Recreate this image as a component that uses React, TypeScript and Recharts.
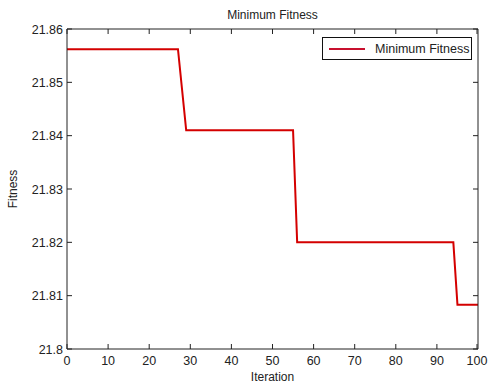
import { Line, LineChart, XAxis, YAxis } from 'recharts';

const iterations = [0, 27, 29, 55, 56, 94, 95, 100];
const minFitness = [21.8562, 21.8562, 21.841, 21.841, 21.82, 21.82, 21.8083, 21.8083];
const xTicks = [0, 10, 20, 30, 40, 50, 60, 70, 80, 90, 100];
const yTicks = [21.8, 21.81, 21.82, 21.83, 21.84, 21.85, 21.86];

const data = iterations.map((it, i) => ({ iteration: it, fitness: minFitness[i] }));

const FONT = '"Liberation Sans", Arial, sans-serif';
const INK = '#222';
const TICK = 5;

function fmtY(v: number): string {
  return String(Number(v.toFixed(2)));
}

function BottomTick({ x, y, payload }: any) {
  return (
    <g>
      <line x1={x} x2={x} y1={y} y2={y - TICK} stroke={INK} strokeWidth={1} />
      <text x={x} y={y + 16} textAnchor="middle" fontSize={12.5} fontFamily={FONT} fill={INK}>
        {payload.value}
      </text>
    </g>
  );
}

function TopTick({ x, y }: any) {
  return <line x1={x} x2={x} y1={y} y2={y + TICK} stroke={INK} strokeWidth={1} />;
}

function LeftTick({ x, y, payload }: any) {
  return (
    <g>
      <line x1={x} x2={x + TICK} y1={y} y2={y} stroke={INK} strokeWidth={1} />
      <text x={x - 4} y={y + 4.5} textAnchor="end" fontSize={12.5} fontFamily={FONT} fill={INK}>
        {fmtY(payload.value)}
      </text>
    </g>
  );
}

function RightTick({ x, y }: any) {
  return <line x1={x} x2={x - TICK} y1={y} y2={y} stroke={INK} strokeWidth={1} />;
}

function LegendBox() {
  return (
    <div
      style={{
        position: 'absolute',
        left: 322,
        top: 37,
        border: '1px solid #111',
        background: '#fff',
        width: 150,
        height: 23,
        display: 'flex',
        alignItems: 'center',
        fontFamily: FONT,
        fontSize: 12.5,
        color: INK,
        boxSizing: 'border-box',
      }}
    >
      <svg width={46} height={10} style={{ marginLeft: 6 }}>
        <line x1={0} x2={36} y1={5} y2={5} stroke="#c8102e" strokeWidth={2} />
      </svg>
      <span>Minimum Fitness</span>
    </div>
  );
}

export default function App() {
  return (
    <div style={{ position: 'absolute', left: 0, top: 0, width: 489, height: 383, background: '#fff' }}>
      <LineChart
        width={489}
        height={383}
        data={data}
        margin={{ top: 28, right: 10, left: 7, bottom: 0 }}
      >
        <XAxis
          dataKey="iteration"
          type="number"
          domain={[0, 100]}
          ticks={xTicks}
          height={34}
          tickSize={0}
          tickMargin={0}
          tickLine={false}
          tick={<BottomTick />}
          axisLine={{ stroke: INK }}
          label={{ value: 'Iteration', position: 'insideBottom', offset: 2, fontSize: 12, fontFamily: FONT, fill: INK }}
        />
        <XAxis
          xAxisId="top"
          orientation="top"
          dataKey="iteration"
          type="number"
          domain={[0, 100]}
          ticks={xTicks}
          height={1}
          tickSize={0}
          tickMargin={0}
          tickLine={false}
          tick={<TopTick />}
          axisLine={{ stroke: INK }}
          label={{ value: 'Minimum Fitness', position: 'top', offset: 9, fontSize: 12, fontFamily: FONT, fill: INK }}
        />
        <YAxis
          type="number"
          domain={[21.8, 21.86]}
          ticks={yTicks}
          width={60}
          tickSize={0}
          tickMargin={0}
          tickLine={false}
          tick={<LeftTick />}
          axisLine={{ stroke: INK }}
          label={{ value: 'Fitness', angle: -90, position: 'insideLeft', offset: 6, fontSize: 12, fontFamily: FONT, fill: INK, style: { textAnchor: 'middle' } }}
        />
        <YAxis
          yAxisId="right"
          orientation="right"
          type="number"
          domain={[21.8, 21.86]}
          ticks={yTicks}
          width={1}
          tickSize={0}
          tickMargin={0}
          tickLine={false}
          tick={<RightTick />}
          axisLine={{ stroke: INK }}
        />
        {/* invisible copy so the top / right box axes get drawn */}
        <Line
          xAxisId="top"
          yAxisId="right"
          type="linear"
          dataKey="fitness"
          stroke="none"
          dot={false}
          legendType="none"
          isAnimationActive={false}
        />
        <Line
          type="linear"
          dataKey="fitness"
          stroke="#d40000"
          strokeWidth={2}
          dot={false}
          isAnimationActive={false}
        />
      </LineChart>
      <LegendBox />
    </div>
  );
}
